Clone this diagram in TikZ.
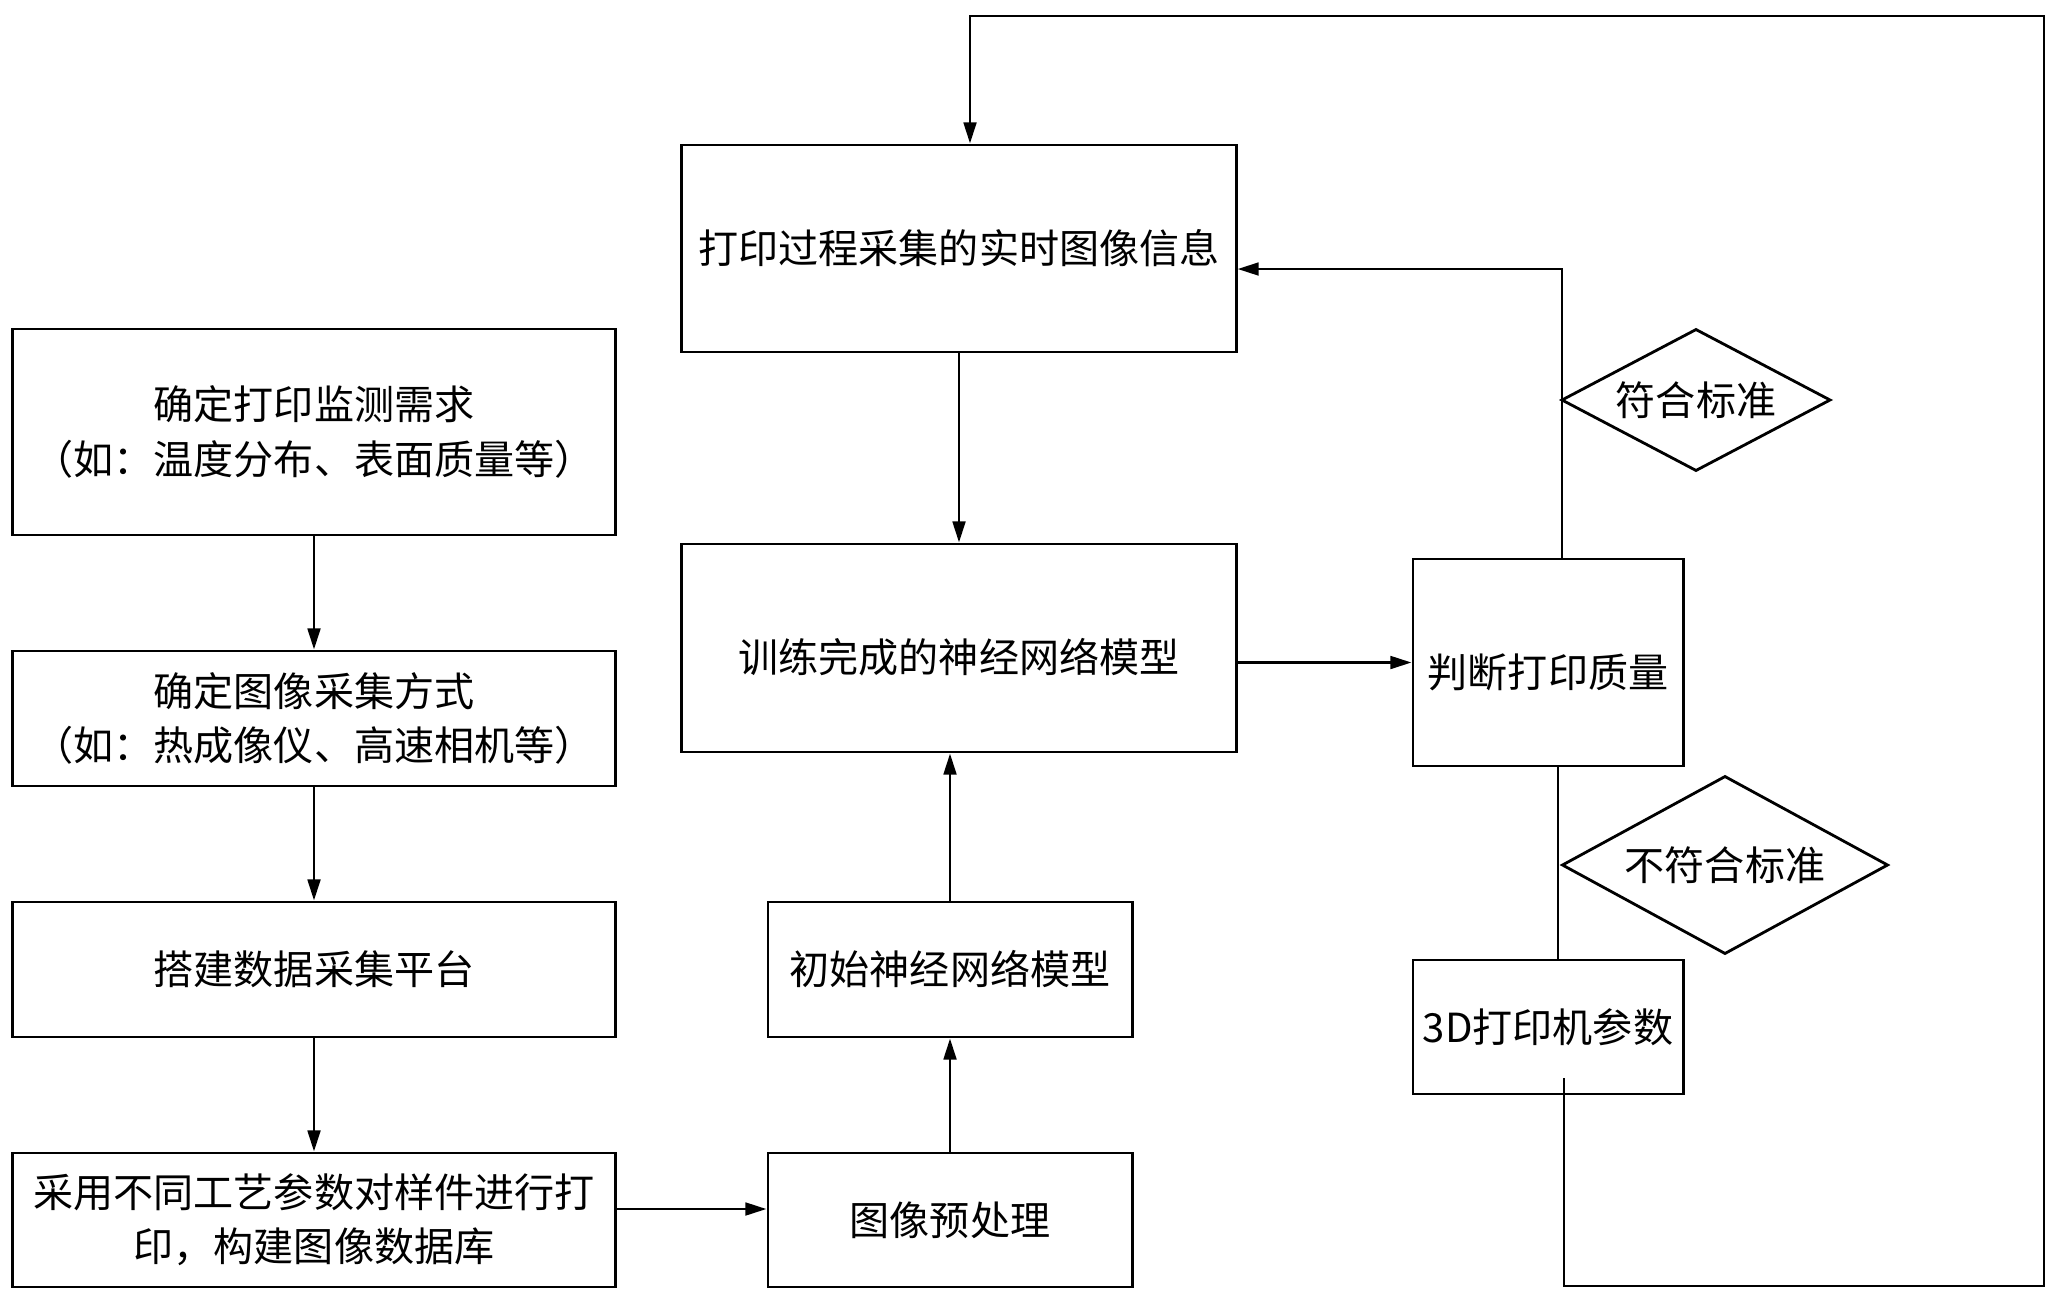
\documentclass[tikz,border=0pt]{standalone}
\usepackage{fontspec}
\setmainfont{Noto Sans CJK SC}
\usetikzlibrary{shapes.geometric,arrows.meta}
\begin{document}
\begin{tikzpicture}[x=0.01cm,y=-0.01cm,
  box/.style={draw,line width=0.8pt,align=center,inner sep=0pt,
    font=\fontsize{11.4pt}{15.4pt}\selectfont},
  dia/.style={draw,line width=0.8pt,shape=diamond,inner sep=0pt,
    font=\fontsize{11.4pt}{15.4pt}\selectfont},
  arr/.style={line width=0.8pt,-{Triangle[length=6pt,width=3.6pt]}},
  ln/.style={line width=0.8pt}]
\useasboundingbox (0,0) rectangle (2061,1303);
\node[box,minimum width=6.02cm,minimum height=2.06cm] (A) at (314,432) {确定打印监测需求\\（如：温度分布、表面质量等）};
\node[box,minimum width=6.02cm,minimum height=1.35cm] (B) at (314,718.5) {确定图像采集方式\\（如：热成像仪、高速相机等）};
\node[box,minimum width=6.02cm,minimum height=1.35cm] (C) at (314,969.5) {搭建数据采集平台};
\node[box,minimum width=6.02cm,minimum height=1.34cm] (D) at (314,1220) {采用不同工艺参数对样件进行打\\印，构建图像数据库};
\node[box,minimum width=3.64cm,minimum height=1.34cm] (E) at (950,1220) {图像预处理};
\node[box,minimum width=3.64cm,minimum height=1.35cm] (F) at (950,969.5) {初始神经网络模型};
\node[box,minimum width=5.54cm,minimum height=2.08cm] (G) at (959,648) {};
\node[font=\fontsize{11.4pt}{15.4pt}\selectfont] (Gt) at (959,657) {训练完成的神经网络模型};
\node[box,minimum width=5.54cm,minimum height=2.07cm] (H) at (959,248.5) {打印过程采集的实时图像信息};
\node[box,minimum width=2.70cm,minimum height=2.07cm] (J) at (1548,662.5) {};
\node[font=\fontsize{11.4pt}{15.4pt}\selectfont] (Jt) at (1548,672) {判断打印质量};
\node[box,minimum width=2.70cm,minimum height=1.34cm] (K) at (1548,1027) {3D打印机参数};
\node[dia,minimum width=2.69cm,minimum height=1.42cm,aspect=1.9] (S1) at (1696,400) {符合标准};
\node[dia,minimum width=3.26cm,minimum height=1.78cm,aspect=1.83] (S2) at (1725,865) {不符合标准};
\draw[arr] (A) -- (B);
\draw[arr] (B) -- (C);
\draw[arr] (C) -- (D);
\draw[arr] ([yshift=0.11cm]D.east) -- ([yshift=0.11cm]E.west);
\draw[arr] (E) -- (F);
\draw[arr] (F.north) -- (F.north |- G.south);
\draw[arr] (H) -- (G);
\draw[arr] (G.east |- J.west) -- (J.west);
\draw[arr] ([xshift=0.14cm]J.north) |- ([yshift=-0.205cm]H.east);
\draw[ln] ([xshift=0.10cm]J.south) -- ([xshift=0.10cm]K.north);
\coordinate (k0) at (1564,1078);
\coordinate (r1) at (2044,1286);
\coordinate (r2) at (2044,16);
\coordinate (r3) at (970,16);
\draw[arr] (k0) |- (r1) -- (r2) -- (r3) -- (r3 |- H.north);
\end{tikzpicture}
\end{document}
